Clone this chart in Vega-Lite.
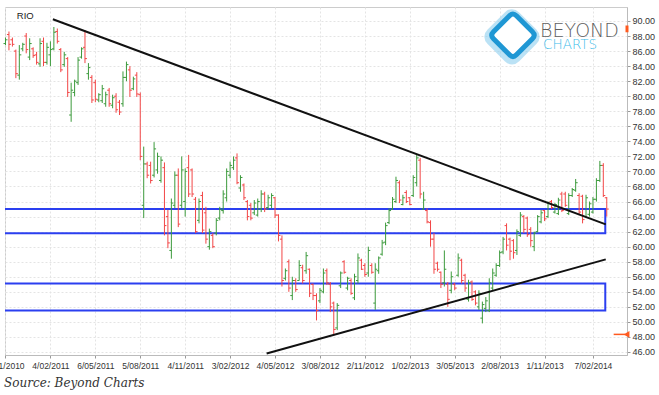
{
"$schema":"https://vega.github.io/schema/vega-lite/v6.json",
"width":622,"height":348,
"autosize":"none",
"padding":{"left":5,"top":7,"right":32,"bottom":40},
"background":"white",
"config":{"view":{"stroke":"#cccccc"},"font":"Liberation Sans","axis":{"labelOverlap":false}},
"title":{"text":"Source: Beyond Charts","orient":"bottom","anchor":"start","frame":"group","font":"DejaVu Serif","fontStyle":"italic","fontWeight":"normal","fontSize":12,"color":"#333333","offset":8,"dx":-1},
"datasets":{
"ohlc":[
{"d":"2010-11-05","o":87.0,"h":87.8,"l":86.8,"c":87.5},
{"d":"2010-11-12","o":88.2,"h":88.6,"l":86.1,"c":86.9},
{"d":"2010-11-19","o":87.5,"h":87.8,"l":86.6,"c":86.9},
{"d":"2010-11-26","o":86.0,"h":86.2,"l":82.4,"c":83.0},
{"d":"2010-12-03","o":82.8,"h":86.8,"l":82.2,"c":85.5},
{"d":"2010-12-10","o":86.3,"h":87.1,"l":86.0,"c":86.9},
{"d":"2010-12-17","o":88.0,"h":88.4,"l":85.7,"c":86.2},
{"d":"2010-12-24","o":85.2,"h":87.7,"l":84.8,"c":87.0},
{"d":"2010-12-31","o":86.3,"h":86.5,"l":85.1,"c":85.4},
{"d":"2011-01-07","o":85.5,"h":85.9,"l":84.2,"c":84.5},
{"d":"2011-01-14","o":84.3,"h":87.7,"l":83.9,"c":87.0},
{"d":"2011-01-21","o":87.3,"h":87.8,"l":84.0,"c":84.5},
{"d":"2011-01-28","o":84.5,"h":87.1,"l":84.2,"c":86.5},
{"d":"2011-02-04","o":85.5,"h":87.3,"l":84.0,"c":86.2},
{"d":"2011-02-11","o":86.3,"h":89.2,"l":86.1,"c":88.5},
{"d":"2011-02-18","o":88.6,"h":89.0,"l":87.0,"c":87.3},
{"d":"2011-02-25","o":86.2,"h":86.4,"l":83.2,"c":83.5},
{"d":"2011-03-04","o":84.2,"h":85.9,"l":83.9,"c":85.5},
{"d":"2011-03-11","o":85.0,"h":85.2,"l":79.9,"c":80.5},
{"d":"2011-03-18","o":77.5,"h":81.8,"l":76.6,"c":80.8},
{"d":"2011-03-25","o":80.5,"h":82.2,"l":80.0,"c":82.0},
{"d":"2011-04-01","o":81.8,"h":85.2,"l":81.5,"c":84.8},
{"d":"2011-04-08","o":85.2,"h":86.5,"l":85.0,"c":86.3},
{"d":"2011-04-15","o":86.5,"h":88.8,"l":84.4,"c":85.0},
{"d":"2011-04-22","o":83.0,"h":84.4,"l":82.2,"c":83.8},
{"d":"2011-04-29","o":82.5,"h":82.8,"l":79.1,"c":79.5},
{"d":"2011-05-06","o":81.8,"h":82.2,"l":79.2,"c":79.6},
{"d":"2011-05-13","o":79.5,"h":80.4,"l":79.2,"c":80.2},
{"d":"2011-05-20","o":79.4,"h":81.5,"l":79.1,"c":81.0},
{"d":"2011-05-27","o":79.0,"h":80.6,"l":78.6,"c":80.2},
{"d":"2011-06-03","o":80.8,"h":81.1,"l":78.6,"c":79.0},
{"d":"2011-06-10","o":78.8,"h":80.2,"l":78.4,"c":79.8},
{"d":"2011-06-17","o":80.0,"h":80.4,"l":77.8,"c":78.2},
{"d":"2011-06-24","o":79.2,"h":79.5,"l":77.5,"c":77.9},
{"d":"2011-07-01","o":79.0,"h":83.3,"l":78.6,"c":82.5},
{"d":"2011-07-08","o":82.5,"h":84.6,"l":82.0,"c":84.2},
{"d":"2011-07-15","o":83.5,"h":84.0,"l":79.9,"c":80.8},
{"d":"2011-07-22","o":81.0,"h":82.6,"l":80.8,"c":82.3},
{"d":"2011-07-29","o":82.8,"h":83.2,"l":79.9,"c":80.3},
{"d":"2011-08-05","o":80.2,"h":80.5,"l":71.5,"c":72.0},
{"d":"2011-08-12","o":65.5,"h":73.3,"l":63.8,"c":71.0},
{"d":"2011-08-19","o":71.0,"h":71.3,"l":69.1,"c":69.5},
{"d":"2011-08-26","o":70.8,"h":71.3,"l":68.4,"c":68.8},
{"d":"2011-09-02","o":69.5,"h":73.9,"l":69.2,"c":73.0},
{"d":"2011-09-09","o":70.2,"h":72.5,"l":69.7,"c":72.0},
{"d":"2011-09-16","o":68.8,"h":72.0,"l":68.5,"c":71.5},
{"d":"2011-09-23","o":70.5,"h":71.2,"l":61.5,"c":62.8},
{"d":"2011-09-30","o":64.0,"h":64.9,"l":59.8,"c":60.5},
{"d":"2011-10-07","o":59.5,"h":66.4,"l":58.4,"c":65.8},
{"d":"2011-10-14","o":65.5,"h":70.0,"l":65.1,"c":69.5},
{"d":"2011-10-21","o":69.5,"h":70.4,"l":62.6,"c":63.0},
{"d":"2011-10-28","o":65.5,"h":72.0,"l":65.1,"c":70.2},
{"d":"2011-11-04","o":66.0,"h":70.4,"l":64.0,"c":70.0},
{"d":"2011-11-11","o":70.5,"h":72.2,"l":66.6,"c":67.0},
{"d":"2011-11-18","o":70.2,"h":70.4,"l":66.6,"c":67.0},
{"d":"2011-11-25","o":66.3,"h":66.6,"l":61.8,"c":62.0},
{"d":"2011-12-02","o":63.5,"h":66.4,"l":63.1,"c":66.0},
{"d":"2011-12-09","o":66.8,"h":67.3,"l":61.8,"c":62.2},
{"d":"2011-12-16","o":64.5,"h":65.3,"l":60.4,"c":61.0},
{"d":"2011-12-23","o":60.0,"h":62.4,"l":59.6,"c":62.0},
{"d":"2011-12-30","o":61.5,"h":61.8,"l":59.8,"c":60.0},
{"d":"2012-01-06","o":61.8,"h":63.8,"l":61.5,"c":63.5},
{"d":"2012-01-13","o":63.8,"h":65.3,"l":63.5,"c":65.0},
{"d":"2012-01-20","o":64.8,"h":67.5,"l":64.4,"c":67.0},
{"d":"2012-01-27","o":66.5,"h":70.4,"l":66.0,"c":70.0},
{"d":"2012-02-03","o":69.5,"h":71.3,"l":69.1,"c":70.8},
{"d":"2012-02-10","o":70.5,"h":72.0,"l":70.2,"c":71.5},
{"d":"2012-02-17","o":71.8,"h":72.4,"l":68.3,"c":68.5},
{"d":"2012-02-24","o":67.8,"h":69.5,"l":67.3,"c":69.2},
{"d":"2012-03-02","o":68.2,"h":68.4,"l":66.2,"c":66.5},
{"d":"2012-03-09","o":66.0,"h":66.2,"l":63.5,"c":64.0},
{"d":"2012-03-16","o":65.5,"h":65.8,"l":63.5,"c":63.8},
{"d":"2012-03-23","o":64.5,"h":66.2,"l":64.2,"c":65.8},
{"d":"2012-03-30","o":64.2,"h":66.4,"l":64.0,"c":66.0},
{"d":"2012-04-06","o":65.0,"h":67.5,"l":64.6,"c":67.0},
{"d":"2012-04-13","o":67.0,"h":67.3,"l":64.6,"c":65.0},
{"d":"2012-04-20","o":65.2,"h":66.9,"l":64.9,"c":66.5},
{"d":"2012-04-27","o":65.5,"h":67.1,"l":65.1,"c":66.8},
{"d":"2012-05-04","o":66.5,"h":66.6,"l":63.8,"c":64.2},
{"d":"2012-05-11","o":64.2,"h":64.3,"l":60.7,"c":61.5},
{"d":"2012-05-18","o":61.0,"h":61.5,"l":54.7,"c":55.5},
{"d":"2012-05-25","o":55.8,"h":57.1,"l":55.5,"c":56.8},
{"d":"2012-06-01","o":58.0,"h":58.3,"l":54.0,"c":54.5},
{"d":"2012-06-08","o":53.5,"h":56.0,"l":52.9,"c":55.5},
{"d":"2012-06-15","o":55.5,"h":55.8,"l":54.0,"c":54.3},
{"d":"2012-06-22","o":55.5,"h":58.2,"l":55.5,"c":57.5},
{"d":"2012-06-29","o":57.2,"h":57.6,"l":55.1,"c":55.5},
{"d":"2012-07-06","o":56.8,"h":59.3,"l":56.4,"c":58.8},
{"d":"2012-07-13","o":57.0,"h":57.1,"l":53.3,"c":53.8},
{"d":"2012-07-20","o":55.0,"h":55.1,"l":52.9,"c":53.5},
{"d":"2012-07-27","o":53.5,"h":53.8,"l":50.2,"c":51.5},
{"d":"2012-08-03","o":52.8,"h":54.5,"l":52.5,"c":54.2},
{"d":"2012-08-10","o":54.0,"h":57.1,"l":53.8,"c":56.5},
{"d":"2012-08-17","o":56.8,"h":57.1,"l":54.9,"c":55.2},
{"d":"2012-08-24","o":55.0,"h":55.3,"l":51.3,"c":52.0},
{"d":"2012-08-31","o":52.5,"h":52.7,"l":48.2,"c":49.0},
{"d":"2012-09-07","o":49.2,"h":52.5,"l":48.9,"c":52.2},
{"d":"2012-09-14","o":54.8,"h":56.7,"l":54.5,"c":56.5},
{"d":"2012-09-21","o":58.0,"h":58.2,"l":56.4,"c":56.6},
{"d":"2012-09-28","o":54.5,"h":56.0,"l":54.2,"c":55.8},
{"d":"2012-10-05","o":55.5,"h":55.8,"l":53.6,"c":53.8},
{"d":"2012-10-12","o":53.2,"h":56.4,"l":52.9,"c":56.0},
{"d":"2012-10-19","o":55.5,"h":59.1,"l":55.1,"c":58.5},
{"d":"2012-10-26","o":58.2,"h":58.4,"l":56.9,"c":57.0},
{"d":"2012-11-02","o":57.5,"h":57.8,"l":56.0,"c":56.3},
{"d":"2012-11-09","o":56.5,"h":60.0,"l":56.0,"c":59.5},
{"d":"2012-11-16","o":57.5,"h":57.8,"l":56.4,"c":56.6},
{"d":"2012-11-23","o":52.5,"h":57.8,"l":51.6,"c":57.0},
{"d":"2012-11-30","o":56.8,"h":58.7,"l":56.4,"c":58.5},
{"d":"2012-12-07","o":59.0,"h":60.9,"l":58.8,"c":60.5},
{"d":"2012-12-14","o":60.6,"h":63.2,"l":60.2,"c":62.8},
{"d":"2012-12-21","o":63.2,"h":65.1,"l":63.0,"c":64.8},
{"d":"2012-12-28","o":65.0,"h":66.6,"l":64.9,"c":66.3},
{"d":"2013-01-04","o":66.0,"h":69.3,"l":65.8,"c":68.8},
{"d":"2013-01-11","o":68.5,"h":68.8,"l":65.8,"c":66.2},
{"d":"2013-01-18","o":65.6,"h":66.9,"l":65.5,"c":66.5},
{"d":"2013-01-25","o":67.2,"h":67.5,"l":65.8,"c":66.0},
{"d":"2013-02-01","o":66.5,"h":66.6,"l":65.5,"c":65.6},
{"d":"2013-02-08","o":66.8,"h":69.5,"l":66.6,"c":69.2},
{"d":"2013-02-15","o":68.5,"h":72.3,"l":68.0,"c":71.8},
{"d":"2013-02-22","o":71.5,"h":71.8,"l":66.4,"c":67.0},
{"d":"2013-03-01","o":65.0,"h":67.3,"l":64.9,"c":66.2},
{"d":"2013-03-08","o":64.8,"h":65.1,"l":63.1,"c":63.3},
{"d":"2013-03-15","o":63.2,"h":63.5,"l":60.0,"c":61.0},
{"d":"2013-03-22","o":61.0,"h":61.8,"l":56.4,"c":57.0},
{"d":"2013-03-29","o":57.8,"h":58.0,"l":56.7,"c":57.0},
{"d":"2013-04-05","o":56.6,"h":56.7,"l":54.5,"c":55.0},
{"d":"2013-04-12","o":55.2,"h":59.5,"l":54.7,"c":57.0},
{"d":"2013-04-19","o":55.0,"h":55.3,"l":52.0,"c":53.0},
{"d":"2013-04-26","o":54.2,"h":56.7,"l":53.8,"c":56.0},
{"d":"2013-05-03","o":55.0,"h":55.2,"l":54.2,"c":54.5},
{"d":"2013-05-10","o":56.2,"h":59.1,"l":56.0,"c":58.5},
{"d":"2013-05-17","o":58.2,"h":58.4,"l":55.1,"c":55.5},
{"d":"2013-05-24","o":56.2,"h":56.4,"l":54.0,"c":54.5},
{"d":"2013-05-31","o":53.0,"h":55.6,"l":52.7,"c":55.2},
{"d":"2013-06-07","o":55.3,"h":55.5,"l":52.8,"c":53.0},
{"d":"2013-06-14","o":54.0,"h":54.2,"l":52.2,"c":52.5},
{"d":"2013-06-21","o":52.0,"h":54.2,"l":51.6,"c":53.8},
{"d":"2013-06-28","o":50.5,"h":52.7,"l":49.8,"c":52.3},
{"d":"2013-07-05","o":51.8,"h":53.3,"l":51.3,"c":52.8},
{"d":"2013-07-12","o":51.5,"h":55.8,"l":51.3,"c":55.2},
{"d":"2013-07-19","o":54.5,"h":57.1,"l":54.2,"c":56.5},
{"d":"2013-07-26","o":56.2,"h":57.8,"l":56.0,"c":57.5},
{"d":"2013-08-02","o":57.5,"h":59.5,"l":57.3,"c":59.2},
{"d":"2013-08-09","o":59.3,"h":61.3,"l":59.0,"c":61.0},
{"d":"2013-08-16","o":62.8,"h":63.1,"l":59.5,"c":60.2},
{"d":"2013-08-23","o":61.0,"h":61.2,"l":58.2,"c":59.4},
{"d":"2013-08-30","o":60.8,"h":61.0,"l":58.4,"c":59.2},
{"d":"2013-09-06","o":59.5,"h":62.3,"l":58.9,"c":62.0},
{"d":"2013-09-13","o":61.5,"h":64.6,"l":61.3,"c":64.2},
{"d":"2013-09-20","o":64.0,"h":64.2,"l":61.8,"c":62.3},
{"d":"2013-09-27","o":63.8,"h":64.0,"l":61.3,"c":61.6},
{"d":"2013-10-04","o":62.3,"h":62.6,"l":60.0,"c":60.8},
{"d":"2013-10-11","o":60.0,"h":62.0,"l":59.4,"c":61.8},
{"d":"2013-10-18","o":62.0,"h":64.2,"l":61.9,"c":64.0},
{"d":"2013-10-25","o":63.3,"h":64.9,"l":63.1,"c":64.5},
{"d":"2013-11-01","o":64.8,"h":64.9,"l":63.4,"c":63.7},
{"d":"2013-11-08","o":64.0,"h":66.0,"l":63.8,"c":65.8},
{"d":"2013-11-15","o":66.0,"h":66.2,"l":65.0,"c":65.2},
{"d":"2013-11-22","o":64.6,"h":65.8,"l":64.4,"c":65.6},
{"d":"2013-11-29","o":64.4,"h":66.5,"l":64.2,"c":66.2},
{"d":"2013-12-06","o":67.0,"h":67.3,"l":64.6,"c":64.8},
{"d":"2013-12-13","o":67.0,"h":67.3,"l":65.3,"c":65.5},
{"d":"2013-12-20","o":64.4,"h":67.1,"l":64.2,"c":66.8},
{"d":"2013-12-27","o":66.8,"h":67.8,"l":66.6,"c":67.6},
{"d":"2014-01-03","o":67.5,"h":69.0,"l":67.3,"c":68.5},
{"d":"2014-01-10","o":66.8,"h":67.1,"l":64.2,"c":64.6},
{"d":"2014-01-17","o":66.7,"h":66.9,"l":63.1,"c":63.6},
{"d":"2014-01-24","o":64.0,"h":66.9,"l":63.8,"c":66.5},
{"d":"2014-01-31","o":64.3,"h":66.0,"l":64.0,"c":65.7},
{"d":"2014-02-07","o":64.6,"h":66.6,"l":64.4,"c":66.3},
{"d":"2014-02-14","o":66.3,"h":69.1,"l":66.0,"c":68.8},
{"d":"2014-02-21","o":68.8,"h":71.4,"l":68.6,"c":70.8},
{"d":"2014-02-28","o":70.8,"h":71.1,"l":66.6,"c":66.8},
{"d":"2014-03-07","o":66.5,"h":66.6,"l":64.0,"c":65.0}
],
"zones":[
{"d1":"2010-10-01","d2":"2014-03-04","lo":61.77,"hi":65.0},
{"d1":"2010-10-01","d2":"2014-03-04","lo":51.53,"hi":55.12}
],
"trend":[
{"line":"down","d":"2011-02-09","p":90.23},
{"line":"down","d":"2014-03-05","p":62.97},
{"line":"up","d":"2012-04-17","p":45.81},
{"line":"up","d":"2014-03-05","p":58.31}
]
},
"layer":[
{"data":{"name":"zones"},
 "mark":{"type":"rect","fill":null,"filled":false,"stroke":"#2b3ff0","strokeWidth":2,"clip":true},
 "encoding":{
  "x":{"field":"d1","type":"temporal",
   "scale":{"type":"utc","domain":[{"year":2010,"month":11,"date":4,"utc":true},{"year":2014,"month":4,"date":17,"utc":true}]},
   "axis":{"title":null,"format":"%-d/%m/%Y","labelFlush":false,"labelOverlap":false,"labelBound":false,"tickCount":100,
     "values":[{"year":2010,"month":11,"date":5,"utc":true},{"year":2011,"month":2,"date":4,"utc":true},{"year":2011,"month":5,"date":6,"utc":true},{"year":2011,"month":8,"date":5,"utc":true},{"year":2011,"month":11,"date":4,"utc":true},{"year":2012,"month":2,"date":3,"utc":true},{"year":2012,"month":5,"date":4,"utc":true},{"year":2012,"month":8,"date":3,"utc":true},{"year":2012,"month":11,"date":2,"utc":true},{"year":2013,"month":2,"date":1,"utc":true},{"year":2013,"month":5,"date":3,"utc":true},{"year":2013,"month":8,"date":2,"utc":true},{"year":2013,"month":11,"date":1,"utc":true},{"year":2014,"month":2,"date":7,"utc":true}],
     "grid":true,"gridColor":"#e4e4e4","gridDash":[2,2],"tickSize":3,"tickColor":"#999999","domainColor":"#bbbbbb","labelFontSize":8.5,"labelColor":"#333333","labelPadding":3,"labelFont":"Liberation Sans"}},
  "x2":{"field":"d2"},
  "y":{"field":"lo","type":"quantitative",
   "scale":{"domain":[45.6,91.86],"nice":false,"zero":false},
   "axis":{"title":null,"orient":"right","format":".2f","labelOverlap":false,"labelBound":false,"tickCount":100,"values":[46,48,50,52,54,56,58,60,62,64,66,68,70,72,74,76,78,80,82,84,86,88,90],
     "grid":true,"gridColor":"#e4e4e4","gridDash":[2,2],"tickSize":3,"tickColor":"#999999","domainColor":"#bbbbbb","labelFontSize":9,"labelColor":"#333333","labelPadding":2,"labelFont":"Liberation Sans"}},
  "y2":{"field":"hi"}
 }},
{"data":{"name":"ohlc"},
 "mark":{"type":"rule","strokeWidth":1},
 "encoding":{
  "x":{"field":"d","type":"temporal"},
  "y":{"field":"l","type":"quantitative"},
  "y2":{"field":"h"},
  "color":{"condition":{"test":"datum.c >= datum.o","value":"#3c9a3c"},"value":"#f24646"}
 }},
{"data":{"name":"ohlc"},
 "mark":{"type":"rule","strokeWidth":1,"x2Offset":-2},
 "encoding":{
  "x":{"field":"d","type":"temporal"},
  "x2":{"field":"d"},
  "y":{"field":"o","type":"quantitative"},
  "color":{"condition":{"test":"datum.c >= datum.o","value":"#3c9a3c"},"value":"#f24646"}
 }},
{"data":{"name":"ohlc"},
 "mark":{"type":"rule","strokeWidth":1,"x2Offset":2},
 "encoding":{
  "x":{"field":"d","type":"temporal"},
  "x2":{"field":"d"},
  "y":{"field":"c","type":"quantitative"},
  "color":{"condition":{"test":"datum.c >= datum.o","value":"#3c9a3c"},"value":"#f24646"}
 }},
{"data":{"name":"trend"},
 "mark":{"type":"line","color":"#111111","strokeWidth":2,"clip":true},
 "encoding":{
  "x":{"field":"d","type":"temporal"},
  "y":{"field":"p","type":"quantitative"},
  "detail":{"field":"line"}
 }},
{"data":{"values":[{"d1":"2014-03-21","d2":"2014-04-13","p":48.34}]},
 "mark":{"type":"rule","color":"#ff5a1f","strokeWidth":1.5},
 "encoding":{"x":{"field":"d1","type":"temporal"},"x2":{"field":"d2"},"y":{"field":"p","type":"quantitative"}}},
{"data":{"values":[{"d":"2014-04-16","p":48.34}]},
 "mark":{"type":"point","shape":"triangle-left","filled":true,"color":"#ff5a1f","size":45,"opacity":1},
 "encoding":{"x":{"field":"d","type":"temporal"},"y":{"field":"p","type":"quantitative"}}},
{"data":{"values":[{"d":"2014-04-17","p1":88.5,"p2":89.4}]},
 "mark":{"type":"rule","color":"#ff5a1f","strokeWidth":3},
 "encoding":{"x":{"field":"d","type":"temporal"},"y":{"field":"p1","type":"quantitative"},"y2":{"field":"p2"}}},
{"data":{"values":[{"d":"2013-08-27","p":87.9}]},
 "mark":{"type":"point","shape":"M-0.15,-0.85Q0,-1,0.15,-0.85L0.85,-0.15Q1,0,0.85,0.15L0.15,0.85Q0,1,-0.15,0.85L-0.85,0.15Q-1,0,-0.85,-0.15Z","filled":false,"stroke":"#8fd0f0","strokeWidth":10,"opacity":0.6,"size":2400},
 "encoding":{"x":{"field":"d","type":"temporal"},"y":{"field":"p","type":"quantitative"}}},
{"data":{"values":[{"d":"2013-08-29","p":88.1}]},
 "mark":{"type":"point","shape":"M-0.15,-0.85Q0,-1,0.15,-0.85L0.85,-0.15Q1,0,0.85,0.15L0.15,0.85Q0,1,-0.15,0.85L-0.85,0.15Q-1,0,-0.85,-0.15Z","filled":true,"fill":"white","stroke":"#1f97d4","strokeWidth":5,"opacity":1,"size":2100},
 "encoding":{"x":{"field":"d","type":"temporal"},"y":{"field":"p","type":"quantitative"}}},
{"data":{"values":[{"d":"2013-10-23","p":87.91,"t":"BEYOND"}]},
 "mark":{"type":"text","align":"left","baseline":"alphabetic","font":"DejaVu Sans","fontWeight":200,"fontSize":19,"color":"#5f5f5f"},
 "encoding":{"x":{"field":"d","type":"temporal"},"y":{"field":"p","type":"quantitative"},"text":{"field":"t"}}},
{"data":{"values":[{"d":"2013-10-29","p":86.3,"t":"CHARTS"}]},
 "mark":{"type":"text","align":"left","baseline":"alphabetic","font":"DejaVu Sans","fontWeight":200,"fontSize":13.5,"color":"#40bdea"},
 "encoding":{"x":{"field":"d","type":"temporal"},"y":{"field":"p","type":"quantitative"},"text":{"field":"t"}}},
{"data":{"values":[{"d":"2010-11-28","p":90.2,"t":"RIO"}]},
 "mark":{"type":"text","align":"left","baseline":"alphabetic","font":"Liberation Sans","fontSize":9.5,"color":"#222222"},
 "encoding":{"x":{"field":"d","type":"temporal"},"y":{"field":"p","type":"quantitative"},"text":{"field":"t"}}}
]
}
